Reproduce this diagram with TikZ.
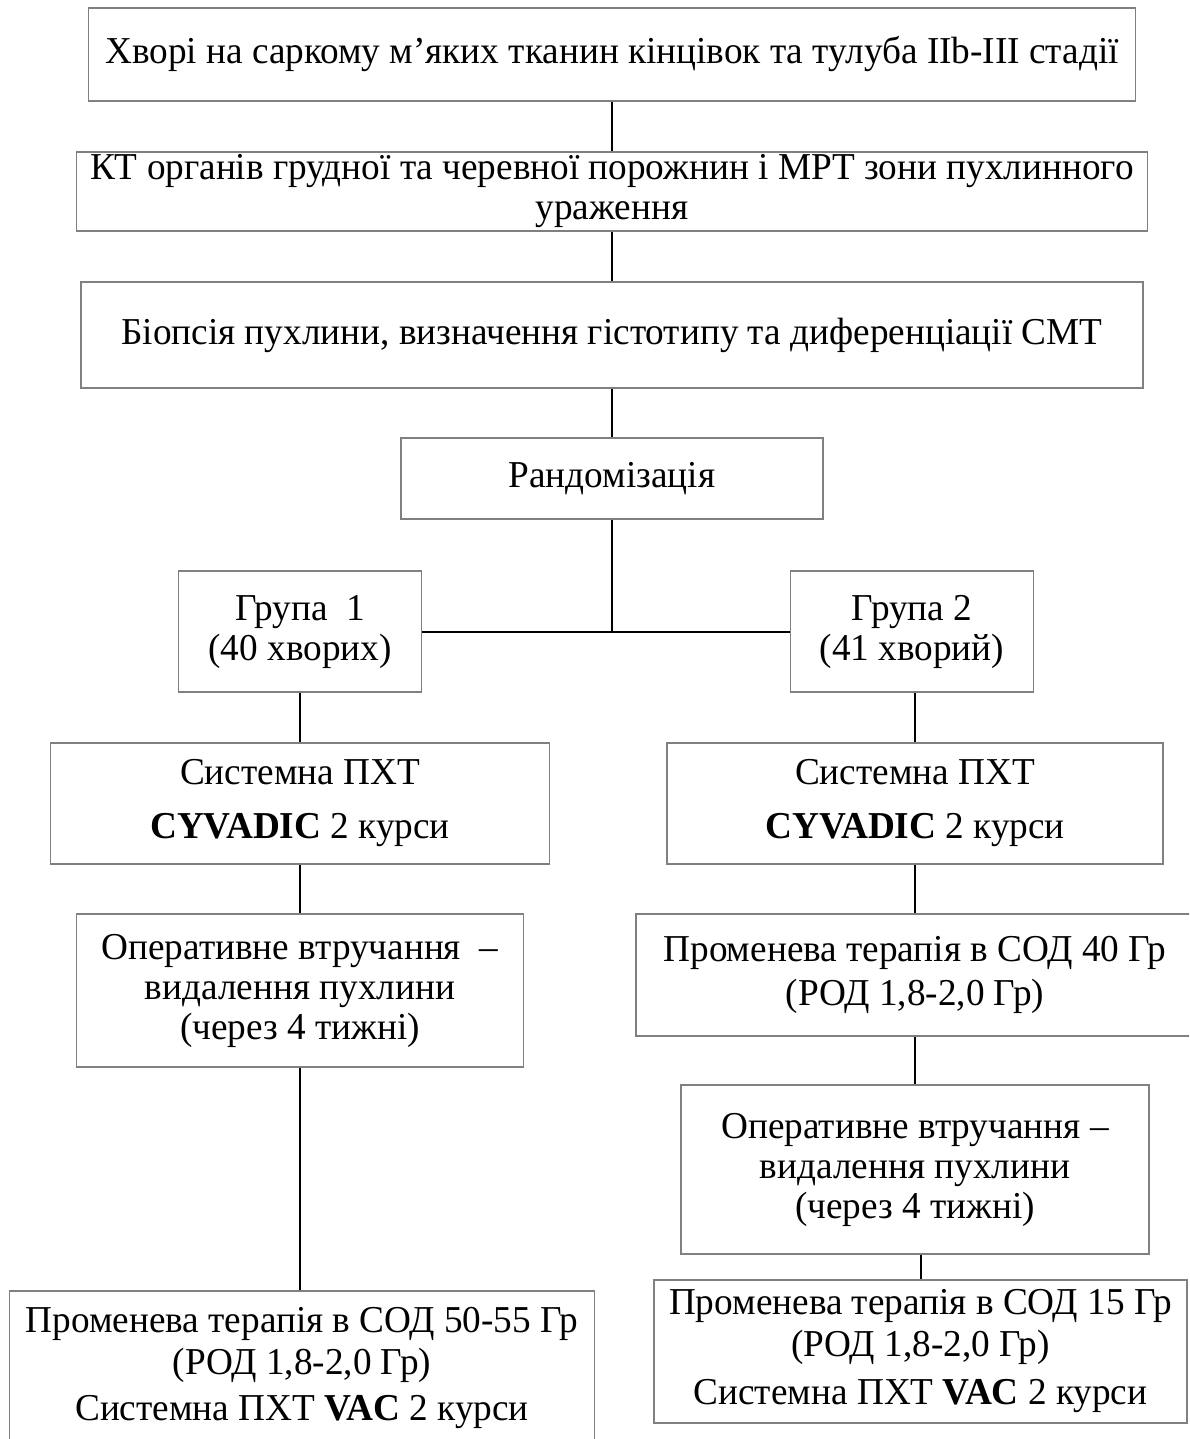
\documentclass[tikz,border=0pt]{standalone}
\usepackage{fontspec}
\setmainfont{Liberation Serif}[FakeStretch=0.98]
\usetikzlibrary{positioning}

\begin{document}
\begin{tikzpicture}[x = 1pt, y = -1pt,
    box/.style={draw=gray, line width=1.2pt, fill=white, align=center, inner sep=2pt,
                font=\fontsize{38}{40}\selectfont},
    link/.style={line width=2pt}]
        \useasboundingbox (0,0) rectangle (1189,1439);
        \clip (0,0) rectangle (1189,1439);
        \fill [white] (0,0) rectangle (1189,1439);
        % common trunk
        \node (pat) [box, minimum width=1047pt, minimum height=93pt] at (612,54.5)
            {Хворі на саркому м’яких тканин кінцівок та тулуба ІІb-ІІІ стадії};
        \node (ct) [box, minimum width=1071pt, minimum height=79pt] at (612,191.5)
            {КТ органів грудної та черевної порожнин і МРТ зони пухлинного\\ураження};
        \node (bio) [box, minimum width=1062pt, minimum height=106pt] at (612,335)
            {Біопсія пухлини, визначення гістотипу та диференціації СМТ};
        \node (rand) [box, minimum width=422pt, minimum height=81pt] at (612,478.5) {Рандомізація};
        % groups
        \node (g1) [box, minimum width=243pt, minimum height=121pt] at (300,631.5) {Група~~1\\(40 хворих)};
        \node (g2) [box, minimum width=243pt, minimum height=121pt] at (912,631.5) {Група 2\\(41 хворий)};
        % group 1
        \node (chem1) [box, minimum width=499pt, minimum height=121pt] at (300,803.5)
            {Системна ПХТ\\[14pt]\textbf{CYVADIC} 2 курси};
        \node (op1) [box, minimum width=447pt, minimum height=153pt] at (300,990.5)
            {Оперативне втручання~~–\\видалення пухлини\\(через 4 тижні)};
        \node (rt1) [box, minimum width=585pt, minimum height=154pt] at (302,1368)
            {Променева терапія в СОД 50-55 Гр\\[2pt](РОД 1,8-2,0 Гр)\\[6pt]Системна ПХТ \textbf{VAC} 2 курси};
        % group 2
        \node (chem2) [box, minimum width=496pt, minimum height=121pt] at (915,803.5)
            {Системна ПХТ\\[14pt]\textbf{CYVADIC} 2 курси};
        \node (rt2) [box, minimum width=558pt, minimum height=122pt] at (915,975)
            {Променева терапія в СОД 40 Гр\\[4pt](РОД 1,8-2,0 Гр)};
        \node (op2) [box, minimum width=468pt, minimum height=169pt] at (915,1169.5)
            {Оперативне втручання –\\видалення пухлини\\(через 4 тижні)};
        \node (rt3) [box, minimum width=533pt, minimum height=143pt] at (920.5,1351.5)
            {Променева терапія в СОД 15 Гр\\[2pt](РОД 1,8-2,0 Гр)\\[8pt]Системна ПХТ \textbf{VAC} 2 курси};
        % connectors
        \draw [link] (pat) -- (ct);
        \draw [link] (ct) -- (bio);
        \draw [link] (bio) -- (rand);
        \draw [link] (rand) -- (rand |- g1.east);
        \draw [link] (g1.east) -- (g2.west);
        \draw [link] (g1) -- (chem1);
        \draw [link] (chem1) -- (op1);
        \draw [link] (op1) -- (op1 |- rt1.north);
        \draw [link] (g2.south -| chem2) -- (chem2);
        \draw [link] (chem2) -- (rt2);
        \draw [link] (rt2) -- (op2);
        \draw [link] (rt3.north |- op2.south) -- (rt3);
    \end{tikzpicture}
\end{document}
